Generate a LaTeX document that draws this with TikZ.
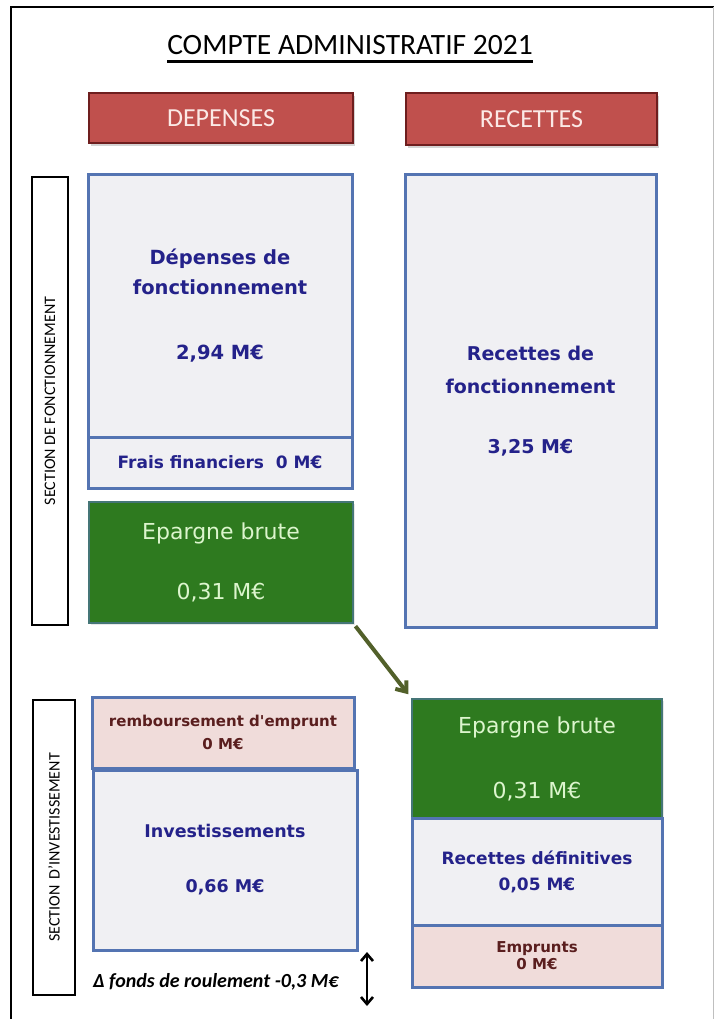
\documentclass[tikz,border=0pt]{standalone}
\usepackage{fontspec}
\setmainfont{Carlito}
\newfontfamily\dvfont{DejaVu Sans}
\usetikzlibrary{arrows.meta,shadows,calc}
\definecolor{navy}{RGB}{36,34,138}
\definecolor{boxline}{RGB}{84,116,178}
\definecolor{boxfill}{RGB}{240,240,243}
\definecolor{hdfill}{RGB}{192,80,77}
\definecolor{hdline}{RGB}{110,30,30}
\definecolor{hdtext}{RGB}{251,233,230}
\definecolor{grfill}{RGB}{46,122,31}
\definecolor{grtext}{RGB}{220,245,205}
\definecolor{pkfill}{RGB}{240,220,218}
\definecolor{pktext}{RGB}{90,30,30}
\definecolor{olive}{RGB}{82,96,42}
\begin{document}
\begin{tikzpicture}[x=1pt,y=-1pt,
  every node/.style={inner sep=0pt,outer sep=0pt},
  hd/.style={draw=hdline,fill=hdfill,line width=2pt,anchor=north west,
    text=hdtext,font=\fontsize{26}{30}\selectfont,
    drop shadow={shadow xshift=2pt,shadow yshift=-3pt,opacity=0.35}},
  soft/.style={drop shadow={shadow xshift=1.5pt,shadow yshift=-2pt,opacity=0.18}},
  sec/.style={draw=black,line width=1.3pt,fill=white,anchor=north west},
  seclab/.style={rotate=90,font=\fontsize{16}{18}\selectfont},
  bluebox/.style={soft,draw=boxline,fill=boxfill,line width=3pt,anchor=north west,
    text=navy,align=center},
  greenbox/.style={soft,draw=boxline!60!grfill,fill=grfill,line width=2.5pt,anchor=north west,
    text=grtext,align=center,font=\dvfont\fontsize{22}{26}\selectfont},
  pinkbox/.style={soft,draw=boxline,fill=pkfill,line width=3pt,anchor=north west,
    text=pktext,align=center},
]
\useasboundingbox (0,0) rectangle (714,1019);
% outer frame
\draw[line width=2pt] (11,1019) -- (11,7) -- (714,7);
\draw[gray!50,line width=0.8pt] (713,7) -- (713,1019);

% title
\node (title) at (350,45) {\fontsize{29.5}{32}\selectfont COMPTE ADMINISTRATIF 2021};
\draw[line width=2.4pt] ($(title.base west)+(0,7)$) -- ($(title.base east)+(0,7)$);

% headers
\node[hd,minimum width=264pt,minimum height=50pt] (hdD) at (89,93) {DEPENSES};
\node[hd,minimum width=251pt,minimum height=52pt] (hdR) at (406,93) {RECETTES};

% section labels
\node[sec,minimum width=36pt,minimum height=448pt] (secF) at (32,177) {};
\node[seclab] (secFt) at (secF.center) {SECTION DE FONCTIONNEMENT};
\node[sec,minimum width=42pt,minimum height=295pt] (secI) at (33,700) {};
\node[seclab] (secIt) at (secI.center) {SECTION\, D'INVESTISSEMENT};

% fonctionnement - depenses
\node[bluebox,minimum width=264pt,minimum height=262pt,
  font=\dvfont\bfseries\fontsize{19.5}{30}\selectfont] (depF) at (88,175)
  {Dépenses de\\fonctionnement\\[35pt]2,94 M€};
\node[bluebox,minimum width=264pt,minimum height=51pt,
  font=\dvfont\bfseries\fontsize{17}{20}\selectfont] (frais) at (88,437)
  {Frais financiers\ \ 0 M€};
\node[greenbox,minimum width=264pt,minimum height=121pt] (epL) at (89,502)
  {Epargne brute\\[34pt]0,31 M€};

% fonctionnement - recettes
\node[bluebox,minimum width=251pt,minimum height=452pt,
  font=\dvfont\bfseries\fontsize{19}{33}\selectfont] (recF) at (405,175)
  {Recettes de\\fonctionnement\\[27pt]3,25 M€};

% investissement - depenses
\node[pinkbox,minimum width=262pt,minimum height=71pt,
  font=\dvfont\bfseries\fontsize{15}{23}\selectfont] (remb) at (92,697)
  {remboursement d'emprunt\\0 M€};
\node[bluebox,minimum width=264pt,minimum height=180pt,
  font=\dvfont\bfseries\fontsize{17.5}{25}\selectfont] (inv) at (93,770)
  {Investissements\\[30pt]0,66 M€};

% investissement - recettes
\node[greenbox,minimum width=250pt,minimum height=119pt] (epR) at (412,699)
  {Epargne brute\\[39pt]0,31 M€};
\node[bluebox,minimum width=250pt,minimum height=107pt,
  font=\dvfont\bfseries\fontsize{17}{26}\selectfont] (recD) at (412,818)
  {Recettes définitives\\0,05 M€};
\node[pinkbox,minimum width=250pt,minimum height=62pt,
  font=\dvfont\bfseries\fontsize{15}{17}\selectfont] (emp) at (412,925)
  {Emprunts\\0 M€};

% fonds de roulement
\node[anchor=west,font=\bfseries\itshape\fontsize{20}{22}\selectfont] (fdr) at (93,982)
  {Δ fonds de roulement -0,3 M€};
\coordinate (fa) at (367,952);
\coordinate (fb) at (367,1006);
\draw[line width=2.6pt,{Straight Barb[length=7pt,width=12pt]}-{Straight Barb[length=7pt,width=12pt]}] (fa) -- (fb);

% transfer arrow
\draw[olive,line width=4pt,-{Straight Barb[length=9pt,width=14pt]},shorten <=4pt,shorten >=6pt]
  (epL.south east) -- (epR.north west);
\end{tikzpicture}
\end{document}
